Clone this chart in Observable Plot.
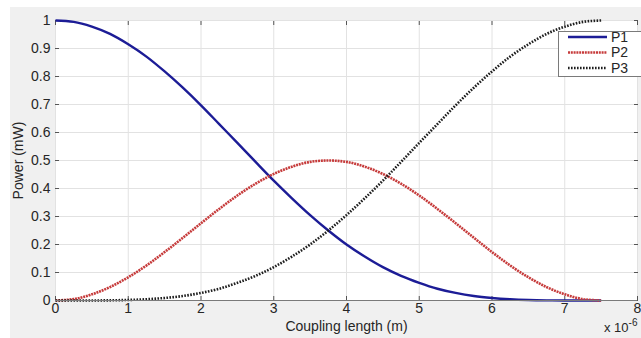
<!DOCTYPE html>
<html><head><meta charset="utf-8">
<script src="https://cdn.jsdelivr.net/npm/d3@7"></script>
<script src="https://cdn.jsdelivr.net/npm/@observablehq/plot@0.6"></script>
<style>body{margin:0;background:#fff} svg{display:block}</style>
</head><body><div id="chart"></div>
<script>
// Coupling length in units of 1e-6 m
const lengths = [0,0.25,0.5,0.75,1,1.25,1.5,1.75,2,2.25,2.5,2.75,3,3.25,3.5,3.75,4,4.25,4.5,4.75,5,5.25,5.5,5.75,6,6.25,6.5,6.75,7,7.25,7.5];
const p1 = [1,0.995,0.978,0.952,0.915,0.871,0.818,0.760,0.697,0.630,0.563,0.495,0.428,0.365,0.305,0.25,0.200,0.157,0.119,0.088,0.063,0.042,0.027,0.016,0.009,0.0045,0.0019,0.0006,0.0001,0,0];
const p2 = [0,0.005,0.022,0.048,0.083,0.125,0.173,0.224,0.276,0.327,0.375,0.417,0.452,0.478,0.495,0.5,0.495,0.478,0.452,0.417,0.375,0.327,0.276,0.224,0.173,0.125,0.083,0.048,0.022,0.005,0];
const p3 = [0,0,0.0001,0.0006,0.0019,0.0045,0.009,0.016,0.027,0.042,0.063,0.088,0.119,0.157,0.200,0.25,0.305,0.365,0.428,0.495,0.563,0.630,0.697,0.760,0.818,0.871,0.915,0.952,0.978,0.995,1];
const seriesNames = ["P1","P2","P3"];
const xTicks = [0,1,2,3,4,5,6,7,8];
const yTicks = [0,0.1,0.2,0.3,0.4,0.5,0.6,0.7,0.8,0.9,1];

const styles = {
  P1: {stroke:"#1c1c96", strokeWidth:2.4},
  P2: {stroke:"#c63b3b", strokeWidth:2.6, strokeDasharray:"2,0.8"},
  P3: {stroke:"#1e1e1e", strokeWidth:2.6, strokeDasharray:"1.6,1.4"}
};
const seriesVals = {P1:p1, P2:p2, P3:p3};
const rows = s => lengths.map((x,i)=>({x, y:seriesVals[s][i]}));
const fmtY = d => String(+d.toFixed(1));
const font = "'Liberation Sans', Arial, sans-serif";

const chart = Plot.plot({
  width:641, height:338,
  marginLeft:55, marginRight:4, marginTop:20, marginBottom:38,
  x:{domain:[0,8]}, y:{domain:[0,1]},
  style:{background:"transparent", fontFamily:font, fontSize:"14px", color:"#262626", overflow:"hidden"},
  marks:[
    Plot.frame({fill:"white", stroke:"#7a7a7a", strokeWidth:1}),
    Plot.gridX(xTicks,{stroke:"#e2e2e2", strokeOpacity:1}),
    Plot.gridY(yTicks,{stroke:"#e2e2e2", strokeOpacity:1}),
    Plot.axisX(xTicks,{tickSize:-4, tickPadding:7, stroke:"#555", label:"Coupling length (m)", labelAnchor:"center", labelArrow:"none", labelOffset:30}),
    Plot.axisX(xTicks,{anchor:"top", tickSize:-4, stroke:"#555", tickFormat:()=>"", label:null}),
    Plot.axisY(yTicks,{tickSize:-4, tickPadding:9, stroke:"#555", tickFormat:fmtY, label:"Power (mW)", labelAnchor:"center", labelArrow:"none", labelOffset:42}),
    Plot.axisY(yTicks,{anchor:"right", tickSize:-4, stroke:"#555", tickFormat:()=>"", label:null}),
    ...seriesNames.map(s => Plot.line(rows(s), {x:"x", y:"y", curve:"monotone-x", strokeLinecap:"butt", ...styles[s]})),
    Plot.ruleY([0],{stroke:"#7a7a7a"})
  ]
});
const svg = d3.select(chart);
svg.insert("rect",":first-child").attr("x",10).attr("y",7).attr("width",631).attr("height",331).attr("fill","#f0f0f0");
// x 10^-6 multiplier
const mult = svg.append("text").attr("x",604).attr("y",332).attr("text-anchor","start").attr("font-size",13).attr("fill","#262626");
mult.append("tspan").text("x 10");
mult.append("tspan").attr("dy",-6).attr("font-size",10).text("-6");
// legend
const lg = svg.append("g").attr("font-family",font);
lg.append("rect").attr("x",558.5).attr("y",31.5).attr("width",90).attr("height",45).attr("fill","white").attr("stroke","#7a7a7a");
seriesNames.forEach((s,i)=>{
  const y = 37 + i*15.5;
  const st = styles[s];
  lg.append("line").attr("x1",568).attr("x2",607).attr("y1",y).attr("y2",y)
    .attr("stroke",st.stroke).attr("stroke-width",st.strokeWidth).attr("stroke-dasharray",st.strokeDasharray||null);
  lg.append("text").attr("x",611).attr("y",y).attr("dy","0.35em").attr("text-anchor","start").attr("font-size",14).attr("fill","#262626").text(s);
});
document.getElementById("chart").appendChild(chart);
</script></body></html>
